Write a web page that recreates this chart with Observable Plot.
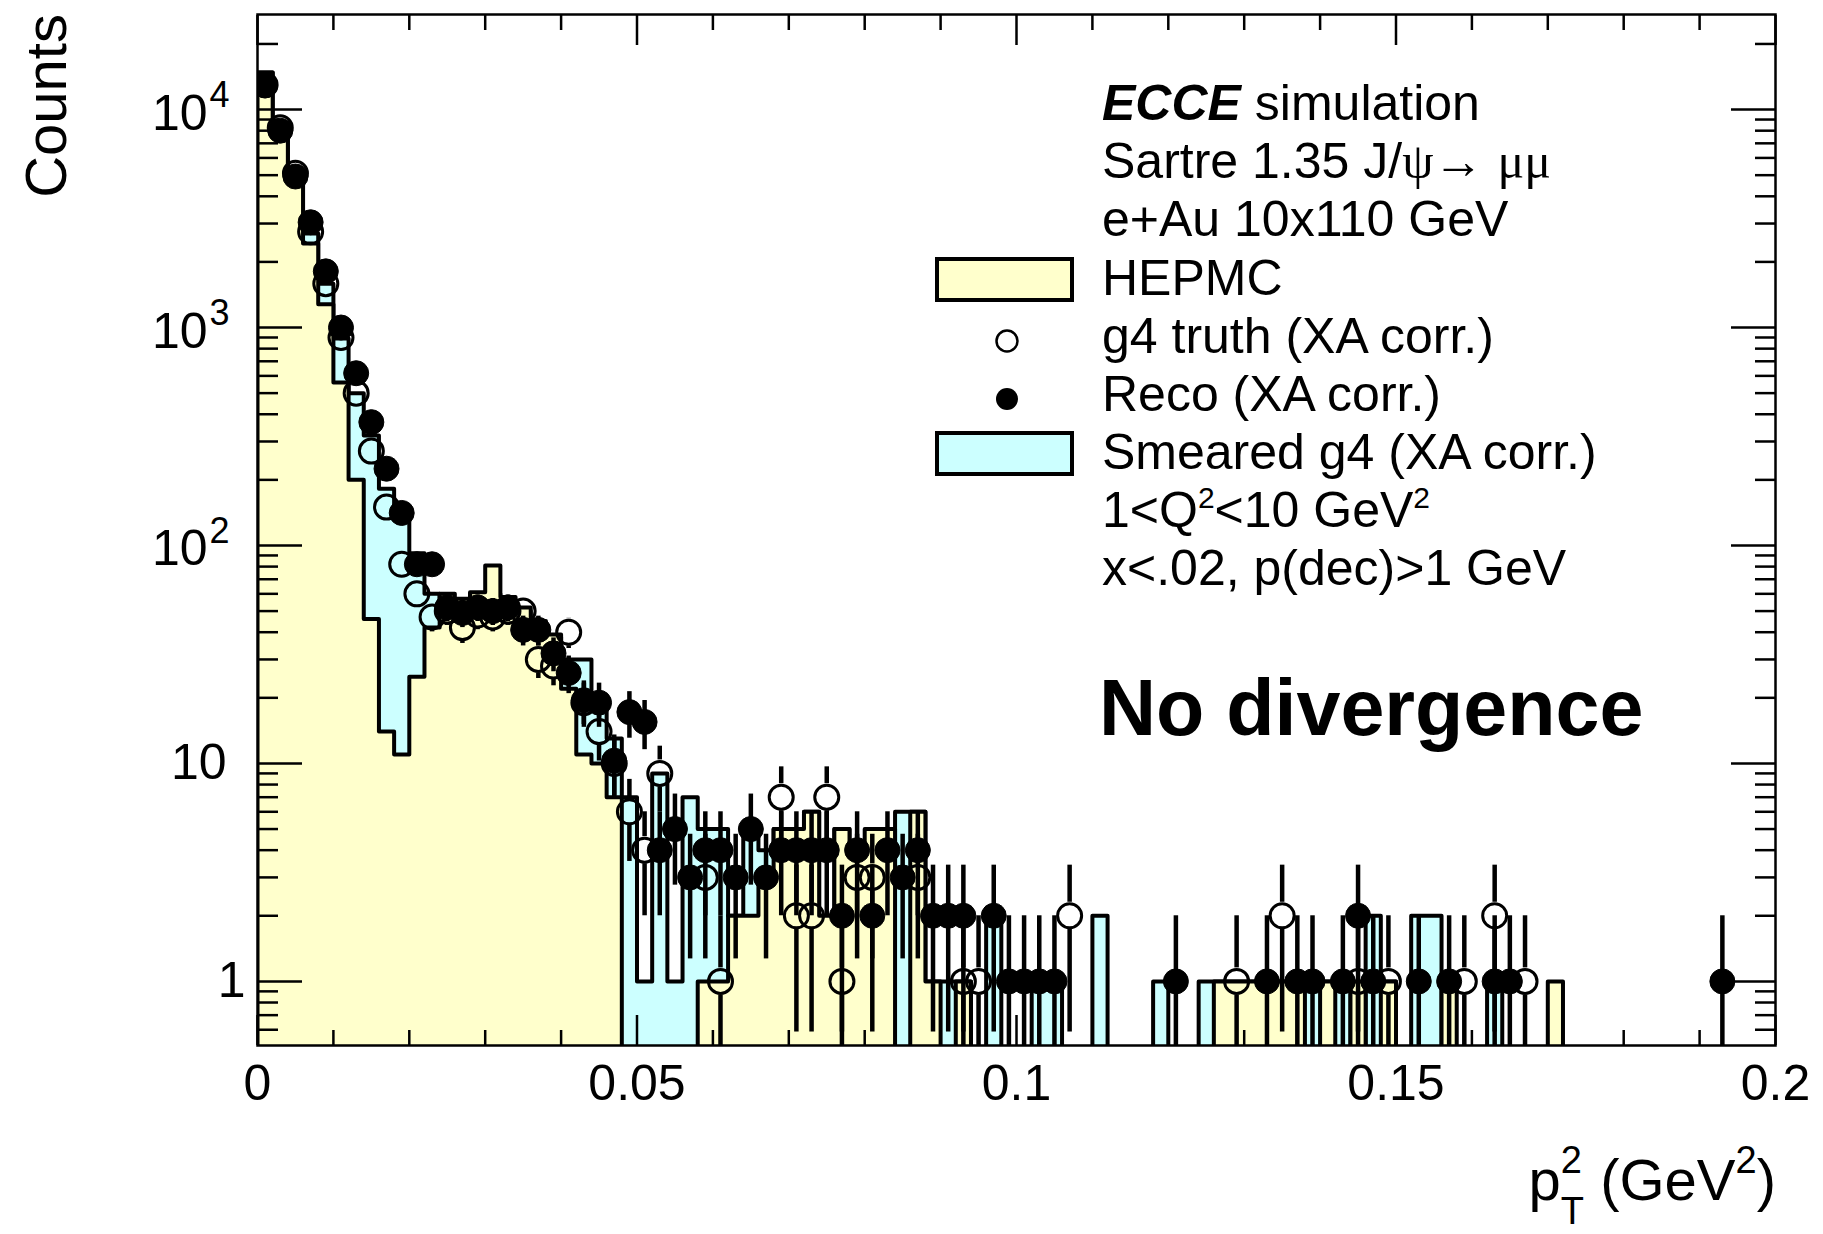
<!DOCTYPE html>
<html>
<head>
<meta charset="utf-8">
<script src="https://cdn.jsdelivr.net/npm/d3@7"></script>
<script src="https://cdn.jsdelivr.net/npm/@observablehq/plot@0.6"></script>
<style>
html, body { margin: 0; padding: 0; background: #fff; }
#chart svg { display: block; }
</style>
</head>
<body>
<div id="chart"></div>
<script>
// ---- data: 100 bins of width 0.002 GeV^2 from 0 to 0.2 ----
const binWidth = 0.002;
const nBins = 100;

const hepmc = [
  14800, 8600, 5250, 2430, 1280, 560, 200, 46, 14, 11,
  25, 42, 60, 57, 61, 81, 58, 52, 45, 39,
  22, 11, 10, 7, 0, 0, 0, 0, 0, 1,
  1, 2, 2, 3, 5, 5, 6, 2, 5, 4,
  5, 5, 0, 6, 1, 0, 1, 0, 0, 0,
  0, 0, 0, 0, 0, 0, 0, 0, 0, 0,
  0, 0, 0, 1, 1, 1, 1, 1, 1, 0,
  1, 0, 1, 0, 1, 0, 0, 0, 1, 0,
  0, 0, 0, 0, 0, 1, 0, 0, 0, 0,
  0, 0, 0, 0, 0, 0, 0, 0, 0, 0
];

const smeared = [
  14800, 8600, 5200, 2700, 1590, 890, 500, 320, 182, 140,
  92, 60, 55, 55, 58, 60, 56, 50, 44, 38,
  30, 30, 20, 13, 7, 1, 9, 1, 7, 5,
  5, 2, 5, 4, 5, 5, 6, 2, 5, 3,
  3, 3, 6, 6, 1, 1, 1, 0, 2, 0,
  0, 1, 1, 0, 0, 2, 0, 0, 0, 1,
  0, 0, 1, 1, 1, 1, 1, 1, 1, 1,
  1, 1, 0, 2, 1, 0, 2, 2, 0, 0,
  0, 1, 0, 0, 0, 0, 0, 0, 0, 0,
  0, 0, 0, 0, 0, 0, 0, 0, 0, 0
];

const truth = [
  13000, 8250, 5100, 2750, 1590, 900, 500, 271, 150, 82,
  60, 47, 50, 42, 48, 47, 50, 50, 30, 28,
  40, 19, 14, 10, 6, 4, 9, 0, 0, 3,
  1, 0, 0, 0, 7, 2, 2, 7, 1, 3,
  3, 0, 0, 3, 0, 0, 1, 1, 0, 0,
  0, 0, 0, 2, 0, 0, 0, 0, 0, 0,
  0, 0, 0, 0, 1, 0, 0, 2, 0, 0,
  0, 0, 1, 0, 1, 0, 0, 0, 0, 1,
  0, 2, 0, 1, 0, 0, 0, 0, 0, 0,
  0, 0, 0, 0, 0, 0, 0, 0, 0, 0
];

const reco = [
  12900, 8000, 4930, 3040, 1810, 1000, 617, 368, 225, 141,
  82, 82, 52, 49, 52, 50, 52, 41, 41, 32,
  26, 19.5, 19, 10.3, 17.2, 15.5, 4, 5, 3, 4,
  4, 3, 5, 3, 4, 4, 4, 4, 2, 4,
  2, 4, 3, 4, 2, 2, 2, 0, 2, 1,
  1, 1, 1, 0, 0, 0, 0, 0, 0, 0,
  1, 0, 0, 0, 0, 0, 1, 0, 1, 1,
  0, 1, 2, 1, 0, 0, 1, 0, 1, 0,
  0, 1, 1, 0, 0, 0, 0, 0, 0, 0,
  0, 0, 0, 0, 0, 0, 1, 0, 0, 0
];

const yMajorTicks = [1, 10, 100, 1000, 10000];
const yTickBase   = ["1", "10", "10", "10", "10"];
const yTickSup    = ["", "", "2", "3", "4"];
const xMajorTicks = [0, 0.05, 0.1, 0.15, 0.2];
const xTickLabels = ["0", "0.05", "0.1", "0.15", "0.2"];

// ---- layout / style ----
const W = 1823, H = 1234;
const mL = 257, mR = 48, mT = 14, mB = 189;
const ymin = 0.508, ymax = 27300;
const YELLOW = "#ffffcc", CYAN = "#ccffff";
const FONT = "'Liberation Sans', Arial, Helvetica, sans-serif";
const SERIF = "'Liberation Serif', 'DejaVu Serif', serif";
const markR = 12.5;

const bins = d3.range(nBins).map(i => ({
  i, x1: i * binWidth, x2: (i + 1) * binWidth, xc: (i + 0.5) * binWidth,
  hepmc: hepmc[i], smeared: smeared[i], truth: truth[i], reco: reco[i]
}));

const below = ymin / 4; // value used for empty bins (drawn below the frame, clipped)
function stepPoints(key) {
  const pts = [{x: 0, y: below}];
  for (const b of bins) {
    const v = b[key] > 0 ? b[key] : below;
    pts.push({x: b.x1, y: v}, {x: b.x2, y: v});
  }
  pts.push({x: nBins * binWidth, y: below});
  return pts;
}

const pxPerDecade = (H - mT - mB) / Math.log10(ymax / ymin);
const gap = Math.pow(10, (markR + 1) / pxPerDecade);
function errorSegments(key, hollow) {
  const segs = [];
  for (const b of bins) {
    const v = b[key];
    if (!(v > 0)) continue;
    const e = Math.sqrt(v);
    const hi = v + e;
    const lo = v - e > 0 ? v - e : below;
    const g = hollow ? gap : 1;
    if (hi > v * g) segs.push({x: b.xc, y1: v * g, y2: hi});
    if (lo < v / g) segs.push({x: b.xc, y1: lo, y2: v / g});
  }
  return segs;
}
const pointsOf = key => bins.filter(b => b[key] > 0).map(b => ({x: b.xc, y: b[key]}));

const yMinor = [];
for (let k = -1; k <= 4; k++) for (let m = 2; m <= 9; m++) {
  const v = m * Math.pow(10, k);
  if (v > ymin && v < ymax) yMinor.push(v);
}
const xMinor = d3.range(0, 21).map(k => k / 100).filter(v => Math.round(v * 100) % 5 !== 0);

const yLabelData = yMajorTicks.map((v, k) => ({v, base: yTickBase[k], sup: yTickSup[k]}));
const xLabelData = xMajorTicks.map((v, k) => ({v, label: xTickLabels[k]}));

const chart = Plot.plot({
  width: W, height: H,
  marginLeft: mL, marginRight: mR, marginTop: mT, marginBottom: mB,
  style: {fontFamily: FONT, fontSize: "50px", color: "black", background: "white", overflow: "visible"},
  x: {domain: [0, 0.2]},
  y: {type: "log", domain: [ymin, ymax]},
  marks: [
    // Smeared g4 histogram
    Plot.areaY(stepPoints("smeared"), {x: "x", y1: ymin, y2: "y", fill: CYAN, clip: true}),
    Plot.line(stepPoints("smeared"), {x: "x", y: "y", stroke: "black", strokeWidth: 4, clip: true}),
    // HEPMC histogram
    Plot.areaY(stepPoints("hepmc"), {x: "x", y1: ymin, y2: "y", fill: YELLOW, clip: true}),
    Plot.line(stepPoints("hepmc"), {x: "x", y: "y", stroke: "black", strokeWidth: 4, clip: true}),
    // g4 truth (open circles)
    Plot.ruleX(errorSegments("truth", true), {x: "x", y1: "y1", y2: "y2", stroke: "black", strokeWidth: 4.5, clip: true}),
    Plot.dot(pointsOf("truth"), {x: "x", y: "y", r: 12, fill: "none", stroke: "black", strokeWidth: 3, clip: true}),
    // Reco (filled circles)
    Plot.ruleX(errorSegments("reco", false), {x: "x", y1: "y1", y2: "y2", stroke: "black", strokeWidth: 4.5, clip: true}),
    Plot.dot(pointsOf("reco"), {x: "x", y: "y", r: markR, fill: "black", stroke: "black", strokeWidth: 1, clip: true}),
    // frame and inward ticks
    Plot.frame({stroke: "black", strokeWidth: 2.5}),
    Plot.axisY(yMajorTicks, {anchor: "left", tickSize: -45, strokeWidth: 2.5, fill: "none", label: null}),
    Plot.axisY(yMinor, {anchor: "left", tickSize: -21, strokeWidth: 2.5, fill: "none", label: null}),
    Plot.axisY(yMajorTicks, {anchor: "right", tickSize: -45, strokeWidth: 2.5, fill: "none", label: null}),
    Plot.axisY(yMinor, {anchor: "right", tickSize: -21, strokeWidth: 2.5, fill: "none", label: null}),
    Plot.axisX(xMajorTicks, {anchor: "bottom", tickSize: -30, strokeWidth: 2.5, fill: "none", label: null}),
    Plot.axisX(xMinor, {anchor: "bottom", tickSize: -15, strokeWidth: 2.5, fill: "none", label: null}),
    Plot.axisX(xMajorTicks, {anchor: "top", tickSize: -30, strokeWidth: 2.5, fill: "none", label: null}),
    Plot.axisX(xMinor, {anchor: "top", tickSize: -15, strokeWidth: 2.5, fill: "none", label: null}),
    // tick labels
    Plot.text(xLabelData, {x: "v", text: "label", frameAnchor: "bottom", lineAnchor: "top", dy: 19, fontSize: 50, ariaLabel: "x-tick-labels"}),
    Plot.text(yLabelData.filter(d => d.sup), {y: "v", text: "base", frameAnchor: "left", textAnchor: "end", dx: -50, dy: 4, fontSize: 50}),
    Plot.text(yLabelData.filter(d => d.sup), {y: "v", text: "sup", frameAnchor: "left", textAnchor: "start", dx: -48, dy: -14, fontSize: 36}),
    Plot.text(yLabelData.filter(d => !d.sup && d.base.length > 1), {y: "v", text: "base", frameAnchor: "left", textAnchor: "end", dx: -31, fontSize: 50}),
    Plot.text(yLabelData.filter(d => !d.sup && d.base.length === 1), {y: "v", text: "base", frameAnchor: "left", textAnchor: "end", dx: -12, fontSize: 50})
  ]
});

document.getElementById("chart").appendChild(chart);

const svg = d3.select(chart);
// ROOT-style wider spacing in the x tick labels
svg.selectAll('g[aria-label="x-tick-labels"] text').attr("letter-spacing", 16);

// ---- titles, legend and annotations ----
const ann = svg.append("g").attr("font-family", FONT).attr("fill", "black").attr("text-anchor", "start");

// y-axis title
ann.append("text").attr("transform", "translate(66,14) rotate(-90)")
  .attr("text-anchor", "end").attr("font-size", 58).text("Counts");

// x-axis title  p_T^2 (GeV^2)
const xt = ann.append("text").attr("x", 1776).attr("y", 1200).attr("text-anchor", "end").attr("font-size", 58);
xt.append("tspan").text("p");
xt.append("tspan").attr("font-size", 38).attr("dy", -27).text("2");
xt.append("tspan").attr("font-size", 38).attr("dx", -21).attr("dy", 51).text("T");
xt.append("tspan").attr("dy", -24).text(" (GeV");
xt.append("tspan").attr("font-size", 38).attr("dy", -27).text("2");
xt.append("tspan").attr("dy", 27).text(")");

// legend block
const lx = 1102, fs = 50;
const base = [120, 178, 236, 295, 353, 411, 469, 527, 585];
const t0 = ann.append("text").attr("x", lx).attr("y", base[0]).attr("font-size", fs);
t0.append("tspan").attr("font-weight", "bold").attr("font-style", "italic").text("ECCE");
t0.append("tspan").text(" simulation");

const t1 = ann.append("text").attr("x", lx).attr("y", base[1]).attr("font-size", fs);
t1.append("tspan").text("Sartre 1.35 J/");
t1.append("tspan").attr("font-family", SERIF).text("ψ");
t1.append("tspan").text("→ ");
t1.append("tspan").attr("font-family", SERIF).text("μμ");

ann.append("text").attr("x", lx).attr("y", base[2]).attr("font-size", fs).text("e+Au 10x110 GeV");
ann.append("text").attr("x", lx).attr("y", base[3]).attr("font-size", fs).text("HEPMC");
ann.append("text").attr("x", lx).attr("y", base[4]).attr("font-size", fs).text("g4 truth (XA corr.)");
ann.append("text").attr("x", lx).attr("y", base[5]).attr("font-size", fs).text("Reco (XA corr.)");
ann.append("text").attr("x", lx).attr("y", base[6]).attr("font-size", fs).text("Smeared g4 (XA corr.)");

const t7 = ann.append("text").attr("x", lx).attr("y", base[7]).attr("font-size", fs);
t7.append("tspan").text("1<Q");
t7.append("tspan").attr("font-size", 30).attr("dy", -19).text("2");
t7.append("tspan").attr("dy", 19).text("<10 GeV");
t7.append("tspan").attr("font-size", 30).attr("dy", -19).text("2");

ann.append("text").attr("x", lx).attr("y", base[8]).attr("font-size", fs).text("x<.02, p(dec)>1 GeV");

// legend symbols
ann.append("rect").attr("x", 937).attr("y", 259).attr("width", 135).attr("height", 41)
  .attr("fill", YELLOW).attr("stroke", "black").attr("stroke-width", 4);
ann.append("circle").attr("cx", 1007).attr("cy", 341).attr("r", 10.5)
  .attr("fill", "none").attr("stroke", "black").attr("stroke-width", 2.5);
ann.append("circle").attr("cx", 1007).attr("cy", 399).attr("r", 11).attr("fill", "black");
ann.append("rect").attr("x", 937).attr("y", 433).attr("width", 135).attr("height", 41)
  .attr("fill", CYAN).attr("stroke", "black").attr("stroke-width", 4);

// annotation
ann.append("text").attr("x", 1099).attr("y", 735).attr("font-size", 79).attr("font-weight", "bold")
  .text("No divergence");
</script>
</body>
</html>
